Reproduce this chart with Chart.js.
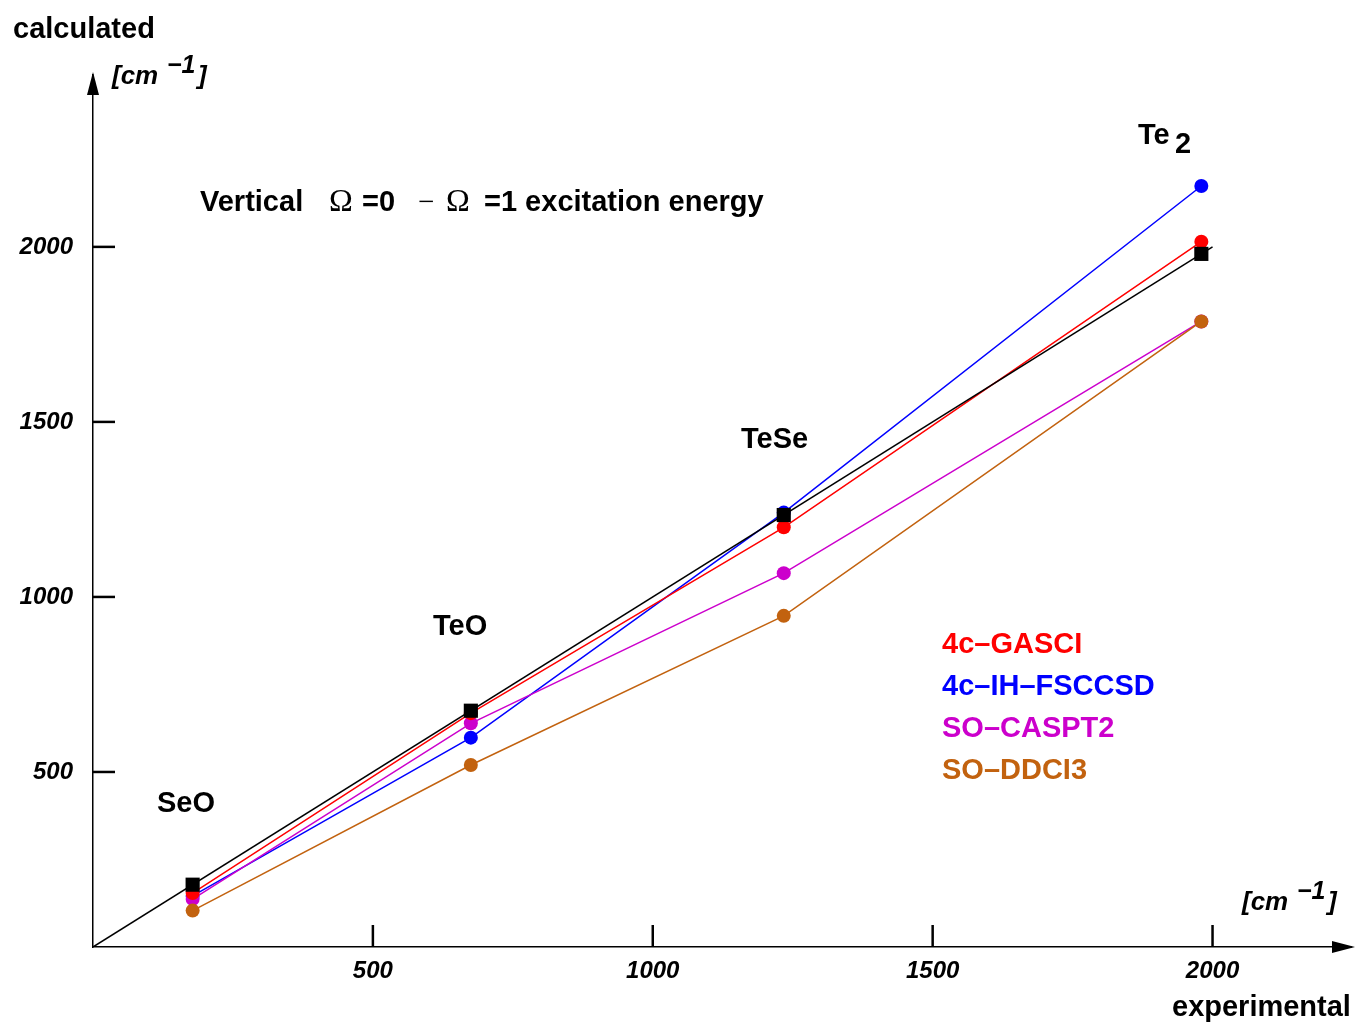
<!DOCTYPE html>
<html>
<head>
<meta charset="utf-8">
<script src="https://cdn.jsdelivr.net/npm/chart.js@4"></script>
<style>
    html, body { margin: 0; padding: 0; background: #fff; }
    #wrap { width: 1358px; height: 1025px; }
</style>
</head>
<body>
<div id="wrap"><canvas id="chart" width="1358" height="1025"></canvas></div>
<script>
// experimental vs calculated Omega=0 -> Omega=1 energies (cm-1)
const molecules = ['SeO', 'TeO', 'TeSe', 'Te2'];
const experimental = [178, 675, 1234, 1980];
const gasci = [154, 668, 1199, 2015];
const fsccsd = [146, 598, 1241, 2174];
const caspt2 = [137, 639, 1068, 1787];
const ddci3 = [104, 520, 946, 1787];
const diagonal = [0, 2000];
const xTicks = [500, 1000, 1500, 2000];
const yTicks = [500, 1000, 1500, 2000];

const SANS = '"Liberation Sans", Arial, Helvetica, sans-serif';
const SERIF = '"Liberation Serif", "Times New Roman", serif';

const pts = (xs, ys) => xs.map((x, i) => ({ x, y: ys[i] }));

function series(label, data, color, order) {
    return {
        label,
        data: pts(experimental, data),
        borderColor: color,
        backgroundColor: color,
        borderWidth: 1.5,
        showLine: true,
        pointStyle: 'circle',
        pointRadius: 7,
        pointBorderWidth: 0,
        order
    };
}

// axis ticks (inward), arrows and all the free text
const decor = {
    id: 'decor',
    afterDraw(chart) {
        const { ctx, chartArea: a, scales: { x, y } } = chart;
        ctx.save();
        ctx.strokeStyle = '#000';
        ctx.fillStyle = '#000';
        ctx.lineWidth = 2.5;
        xTicks.forEach(v => {
            const px = x.getPixelForValue(v);
            ctx.beginPath();
            ctx.moveTo(px, a.bottom);
            ctx.lineTo(px, a.bottom - 22);
            ctx.stroke();
        });
        yTicks.forEach(v => {
            const py = y.getPixelForValue(v);
            ctx.beginPath();
            ctx.moveTo(a.left, py);
            ctx.lineTo(a.left + 22, py);
            ctx.stroke();
        });

        // arrow heads
        ctx.beginPath();
        ctx.moveTo(a.left, a.top - 3);
        ctx.lineTo(a.left - 6, a.top + 20);
        ctx.lineTo(a.left + 6, a.top + 20);
        ctx.closePath();
        ctx.fill();
        ctx.lineWidth = 1.5;
        ctx.beginPath();
        ctx.moveTo(a.right, a.bottom);
        ctx.lineTo(a.right + 4, a.bottom);
        ctx.stroke();
        ctx.beginPath();
        ctx.moveTo(a.right + 7, a.bottom);
        ctx.lineTo(a.right - 16, a.bottom - 6);
        ctx.lineTo(a.right - 16, a.bottom + 6);
        ctx.closePath();
        ctx.fill();

        const txt = (s, px, py, font, color) => {
            ctx.font = font;
            ctx.fillStyle = color || '#000';
            ctx.textAlign = 'left';
            ctx.textBaseline = 'alphabetic';
            ctx.fillText(s, px, py);
        };
        const bold = 'bold 29px ' + SANS;
        const unit = (px, py) => {
            txt('[cm', px, py, 'italic bold 26px ' + SANS);
            txt('\u22121', px + 55, py - 11, 'italic bold 25px ' + SANS);
            txt(']', px + 86, py, 'italic bold 26px ' + SANS);
        };

        txt('calculated', 13, 38, bold);
        unit(112, 84);
        txt('experimental', 1172, 1016, bold);
        unit(1242, 910);

        txt('Vertical', 200, 211, bold);
        txt('\u03A9', 329, 211, '32px ' + SERIF);
        txt('=0', 362, 211, bold);
        txt('\u2212', 418, 211, '29px ' + SERIF);
        txt('\u03A9', 446, 211, '32px ' + SERIF);
        txt('=1 excitation energy', 484, 211, bold);

        txt(molecules[0], 157, 812, bold);
        txt(molecules[1], 433, 635, bold);
        txt(molecules[2], 741, 448, bold);
        txt('Te', 1138, 144, bold);
        txt('2', 1175, 153, bold);

        chart.data.datasets.filter(d => d.legendText).forEach((d, i) => {
            txt(d.legendText, 942, 653 + i * 42, bold, d.borderColor);
        });
        ctx.restore();
    }
};

const tickFont = { family: SANS, size: 24, weight: 'bold', style: 'italic' };

new Chart(document.getElementById('chart'), {
    type: 'scatter',
    data: {
        datasets: [
            {
                label: 'experimental',
                data: pts(experimental, experimental),
                borderColor: '#000',
                backgroundColor: '#000',
                showLine: false,
                pointStyle: 'rect',
                pointRadius: 10,
                pointBorderWidth: 0,
                order: 0
            },
            {
                label: 'y = x',
                data: pts(diagonal, diagonal),
                borderColor: '#000',
                borderWidth: 1.5,
                showLine: true,
                pointRadius: 0,
                order: 1
            },
            Object.assign(series('4c-GASCI', gasci, '#ff0000', 2), { legendText: '4c\u2013GASCI' }),
            Object.assign(series('4c-IH-FSCCSD', fsccsd, '#0000ff', 5), { legendText: '4c\u2013IH\u2013FSCCSD' }),
            Object.assign(series('SO-CASPT2', caspt2, '#cc00cc', 4), { legendText: 'SO\u2013CASPT2' }),
            Object.assign(series('SO-DDCI3', ddci3, '#c2620f', 3), { legendText: 'SO\u2013DDCI3' })
        ]
    },
    options: {
        responsive: false,
        animation: false,
        layout: { padding: { top: 75, right: 0, left: 0, bottom: 0 } },
        plugins: {
            legend: { display: false },
            tooltip: { enabled: false }
        },
        scales: {
            x: {
                type: 'linear',
                min: 0,
                max: 2242,
                afterFit: s => { s.height = 78; },
                afterBuildTicks: s => { s.ticks = xTicks.map(v => ({ value: v })); },
                grid: { display: false, drawTicks: false },
                border: { display: true, color: '#000', width: 1.5 },
                ticks: { padding: 10, color: '#000', font: tickFont, callback: v => String(v) }
            },
            y: {
                type: 'linear',
                min: 0,
                max: 2491,
                afterFit: s => { s.width = 93; },
                afterBuildTicks: s => { s.ticks = yTicks.map(v => ({ value: v })); },
                grid: { display: false, drawTicks: false },
                border: { display: true, color: '#000', width: 1.5 },
                ticks: { padding: 20, color: '#000', font: tickFont, callback: v => String(v) }
            }
        }
    },
    plugins: [decor]
});
</script>
</body>
</html>
